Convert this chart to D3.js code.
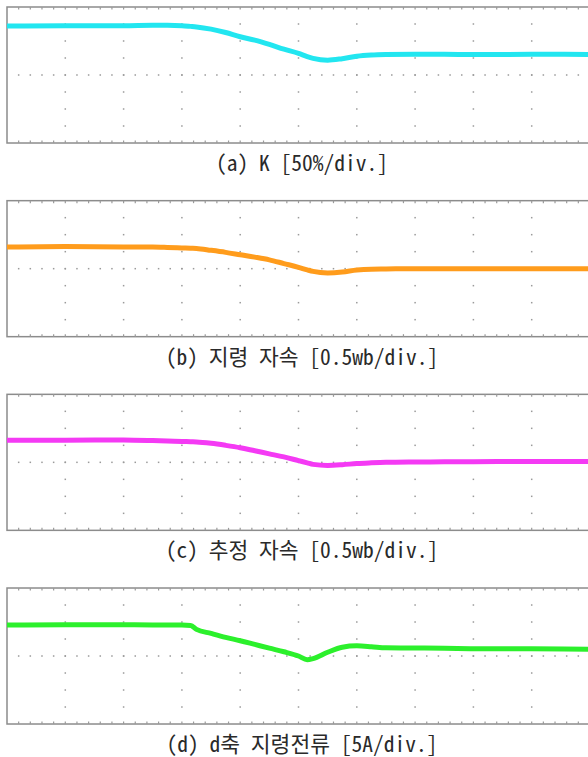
<!DOCTYPE html>
<html>
<head>
<meta charset="utf-8">
<script src="https://cdn.jsdelivr.net/npm/d3@7"></script>
<style>
  html, body { margin: 0; padding: 0; background: #fff; }
  svg { display: block; }
  .cap { font-family: "Noto Sans Mono CJK KR", "DejaVu Sans Mono", "Noto Sans CJK KR", monospace; font-size: 21.5px; fill: #2a2a2a; }
</style>
</head>
<body>
<svg id="chart" width="588" height="757"></svg>
<script>
// Time axis in scope divisions (10 horizontal divisions)
const timeDiv = [0, 1, 2, 2.5, 2.75, 3, 3.15, 3.25, 3.5, 3.75, 4, 4.25, 4.5, 4.75, 5, 5.15, 5.25, 5.5, 5.75, 6, 6.25, 6.5, 7, 7.5, 8, 9, 10];

// Trace levels in vertical divisions from screen centre (8 divisions, -4..4)
const kRatio      = [2.88, 2.9, 2.9, 2.92, 2.92, 2.9, 2.86, 2.83, 2.7, 2.5, 2.25, 2.05, 1.8, 1.52, 1.27, 1.08, 0.98, 0.87, 0.96, 1.1, 1.17, 1.2, 1.22, 1.22, 1.2, 1.22, 1.21];
const fluxRef     = [1.27, 1.3, 1.27, 1.27, 1.25, 1.22, 1.2, 1.19, 1.08, 0.96, 0.82, 0.68, 0.52, 0.3, 0.08, -0.07, -0.16, -0.25, -0.2, -0.08, -0.03, -0.02, 0.0, 0.0, 0.0, 0.0, 0.0];
const fluxEst     = [1.3, 1.3, 1.32, 1.28, 1.25, 1.23, 1.21, 1.2, 1.12, 1.0, 0.86, 0.68, 0.5, 0.32, 0.1, -0.03, -0.12, -0.18, -0.14, -0.07, -0.03, 0.0, 0.02, 0.03, 0.04, 0.05, 0.05];
const idRef       = [1.82, 1.84, 1.84, 1.83, 1.82, 1.82, 1.8, 1.57, 1.33, 1.1, 0.9, 0.68, 0.46, 0.25, 0.0, -0.22, -0.15, 0.22, 0.52, 0.6, 0.55, 0.48, 0.47, 0.45, 0.43, 0.42, 0.4];

const seriesList = [kRatio, fluxRef, fluxEst, idRef];
const traceColors = ["#22e6f0", "#ff9c1c", "#f43af4", "#2cf02c"];
const captions = [
  "(a) K [50%/div.]",
  "(b) 지령 자속 [0.5wb/div.]",
  "(c) 추정 자속 [0.5wb/div.]",
  "(d) d축 지령전류 [5A/div.]"
];

const svg = d3.select("#chart");
const panelLeft = 7, panelRight = 590, panelH = 136, panelStep = 193.67, firstTop = 7;
const gridColor = "#8c8c8c", dotColor = "#9a9a9a";

const x = d3.scaleLinear().domain([0, 10]).range([panelLeft, panelRight]);

seriesList.forEach((vals, i) => {
  const top = firstTop + i * panelStep;
  const y = d3.scaleLinear().domain([-4, 4]).range([top + panelH, top]);
  const g = svg.append("g");

  // frame
  g.append("rect")
    .attr("x", x(0)).attr("y", y(4))
    .attr("width", x(10) - x(0)).attr("height", y(-4) - y(4))
    .attr("fill", "none").attr("stroke", gridColor).attr("stroke-width", 1.5);

  // minor ticks on top and bottom borders
  const minor = d3.range(1, 50).map(k => k / 5);
  g.selectAll(".tt").data(minor).join("line")
    .attr("x1", d => x(d)).attr("x2", d => x(d))
    .attr("y1", y(4)).attr("y2", y(4) + 2.5)
    .attr("stroke", dotColor).attr("stroke-width", 1.2);
  g.selectAll(".tb").data(minor).join("line")
    .attr("x1", d => x(d)).attr("x2", d => x(d))
    .attr("y1", y(-4)).attr("y2", y(-4) - 2.5)
    .attr("stroke", dotColor).attr("stroke-width", 1.2);

  // dotted grid: major crossings
  const cross = [];
  d3.range(1, 10).forEach(cx => d3.range(-3, 4).forEach(cy => cross.push([cx, cy])));
  // centre horizontal line with minor dots
  minor.forEach(m => cross.push([m, 0]));
  g.selectAll(".dot").data(cross).join("rect")
    .attr("x", d => x(d[0]) - 0.75).attr("y", d => y(d[1]) - 0.75)
    .attr("width", 1.5).attr("height", 1.5)
    .attr("fill", dotColor);

  // trace
  const line = d3.line()
    .x((d, k) => x(timeDiv[k]))
    .y(d => y(d))
    .curve(d3.curveMonotoneX);
  g.append("path")
    .datum(vals)
    .attr("d", line)
    .attr("fill", "none")
    .attr("stroke", traceColors[i])
    .attr("stroke-width", 5)
    .attr("stroke-linejoin", "round");

  // caption
  svg.append("text")
    .attr("class", "cap")
    .attr("x", 302)
    .attr("y", top + panelH + 28)
    .attr("text-anchor", "middle")
    .text(captions[i]);
});
</script>
</body>
</html>
